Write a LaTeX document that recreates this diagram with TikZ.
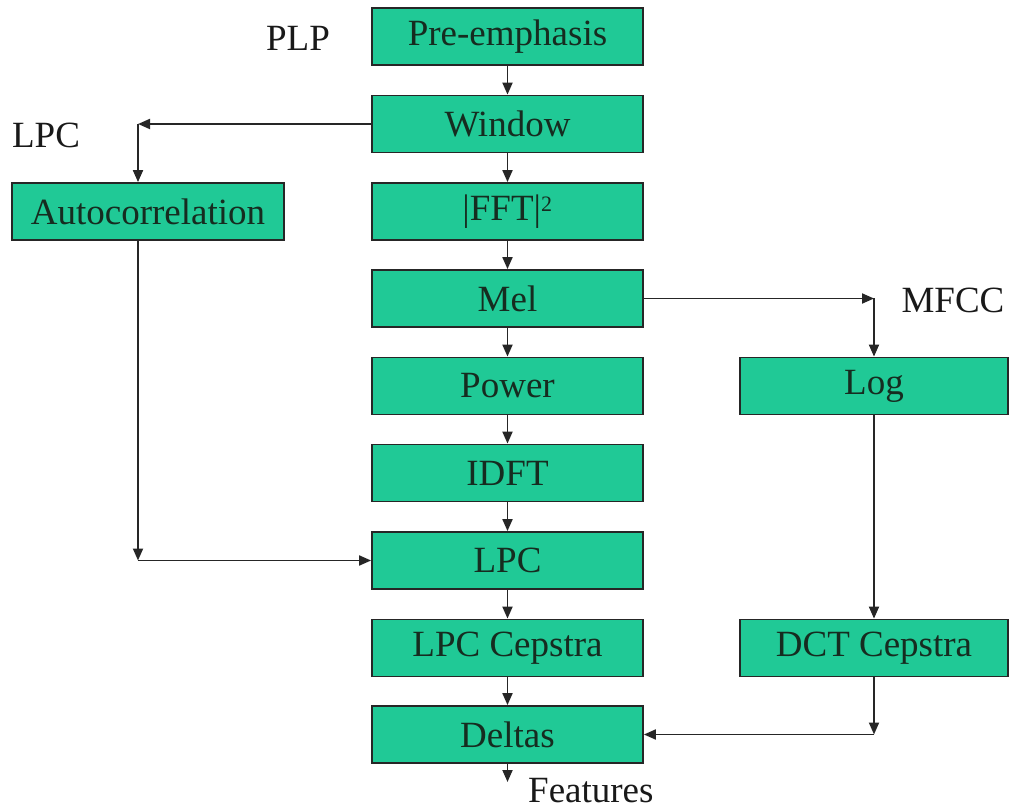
\documentclass[tikz,border=0pt]{standalone}
\usepackage{fontspec}
\setmainfont{Liberation Serif}
\usetikzlibrary{arrows.meta}
\definecolor{boxfill}{RGB}{32,201,150}
\definecolor{boxtext}{RGB}{22,44,32}
\begin{document}
\begin{tikzpicture}[x=1pt,y=-1pt,
  blk/.style={draw=black!85,line width=1.8pt,fill=boxfill,minimum height=57pt,inner sep=0pt,
    font=\fontsize{37}{40}\selectfont,text=boxtext},
  cblk/.style={blk,minimum width=271pt},
  lbl/.style={font=\fontsize{37}{40}\selectfont,text=black!90,inner sep=0pt},
  con/.style={line width=1.9pt,draw=black!85},
  arr/.style={con,-{Triangle[length=12pt,width=10pt]}}]
\useasboundingbox (0,0) rectangle (1015,810);
\node[cblk] (pre) at (507.5,36.5) {Pre-emphasis};
\node[cblk] (win) at (507.5,124) {Window};
\node[cblk] (fft) at (507.5,211.5) {|FFT|\textsuperscript{\fontsize{22}{24}\selectfont 2}};
\node[cblk] (mel) at (507.5,298.5) {Mel};
\node[cblk] (pow) at (507.5,386) {Power};
\node[cblk] (idft) at (507.5,473) {IDFT};
\node[cblk] (lpc) at (507.5,560.5) {LPC};
\node[cblk] (lpcc) at (507.5,648) {LPC Cepstra};
\node[cblk] (del) at (507.5,734.5) {Deltas};
\node[blk,minimum width=272pt] (auto) at (148,211.5) {Autocorrelation};
\node[blk,minimum width=268pt] (log) at (874,386) {Log};
\node[blk,minimum width=268pt] (dct) at (874,648) {DCT Cepstra};
\node[lbl] (plp) at (298,38) {PLP};
\node[lbl] (lpclbl) at (46,135) {LPC};
\node[lbl] (mfcc) at (953,300) {MFCC};
\node[lbl,anchor=base west] (feat) at (528,802) {Features};
\coordinate (c1) at (138,124);
\coordinate (c2) at (874,298.5);
\coordinate (c3) at (138,560.5);
\coordinate (c4) at (874,734.5);
\coordinate (c5) at (507.5,782);
\draw[arr] (pre) -- (win);
\draw[arr] (win) -- (fft);
\draw[arr] (fft) -- (mel);
\draw[arr] (mel) -- (pow);
\draw[arr] (pow) -- (idft);
\draw[arr] (idft) -- (lpc);
\draw[arr] (lpc) -- (lpcc);
\draw[arr] (lpcc) -- (del);
\draw[arr] (del) -- (c5);
\draw[arr] (win.west) -- (c1);
\draw[arr] (c1) -- (c1 |- auto.north);
\draw[arr] (c1 |- auto.south) -- (c3);
\draw[arr] (c3) -- (lpc.west);
\draw[arr] (mel.east) -- (c2);
\draw[arr] (c2) -- (log.north);
\draw[arr] (log) -- (dct);
\draw[arr] (dct.south) -- (c4);
\draw[arr] (c4) -- (del.east);
\end{tikzpicture}
\end{document}
